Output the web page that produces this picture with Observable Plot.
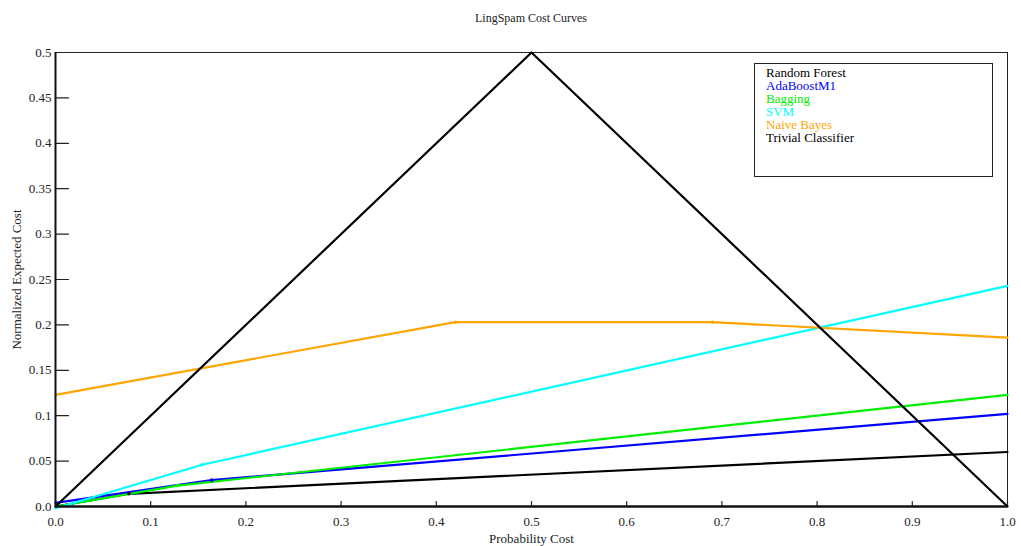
<!DOCTYPE html>
<html><head><meta charset="utf-8">
<script src="https://cdn.jsdelivr.net/npm/d3@7"></script>
<script src="https://cdn.jsdelivr.net/npm/@observablehq/plot@0.6"></script>
<style>
body{margin:0;background:#fff;font-family:"Liberation Serif","DejaVu Serif",serif;}
#wrap{position:relative;width:1021px;height:546px;}
#title{position:absolute;top:11px;left:0;width:1062px;text-align:center;font-size:12px;color:#222;}
#legend{position:absolute;left:754px;top:63px;width:237px;height:112px;border:1px solid #222;background:#fff;}
#legend div{position:absolute;left:11px;font-size:13px;line-height:13px;}
</style></head>
<body><div id="wrap"><div id="title">LingSpam Cost Curves</div><div id="legend"></div></div>
<script>
const seriesNames = ["Random Forest","AdaBoostM1","Bagging","SVM","Naive Bayes","Trivial Classifier"];
const seriesColors = ["#000000","#0000ff","#00ee00","#00ffff","#ffa500","#000000"];
const rfX = [0, 0.077, 1], rfY = [0, 0.014, 0.060];
const adaX = [0, 0.164, 1], adaY = [0.004, 0.029, 0.102];
const bagX = [0, 0.128, 1], bagY = [0, 0.023, 0.123];
const svmX = [0, 0.154, 1], svmY = [-0.002, 0.046, 0.243];
const nbX = [0, 0.42, 0.69, 1], nbY = [0.123, 0.203, 0.203, 0.186];
const trivX = [0, 0.5, 1], trivY = [0, 0.5, 0];
const xTicks = [0,0.1,0.2,0.3,0.4,0.5,0.6,0.7,0.8,0.9,1.0];
const yTicks = [0,0.05,0.1,0.15,0.2,0.25,0.3,0.35,0.4,0.45,0.5];

const allX = [rfX, adaX, bagX, svmX, nbX, trivX];
const allY = [rfY, adaY, bagY, svmY, nbY, trivY];
const data = [];
allX.forEach((xs, i) => xs.forEach((x, j) => data.push({s: seriesNames[i], x, y: allY[i][j], inner: j>0 && j<xs.length-1 && i<5})));
const colorOf = Object.fromEntries(seriesNames.map((n,i)=>[n, seriesColors[i]]));

const fmtY = d => d === 0 ? "0.0" : String(+d.toFixed(2));
const fmtX = d => d.toFixed(1);
const tickShape = {draw(ctx, l) { ctx.moveTo(0, 0); ctx.lineTo(0, -l); }};

const chart = Plot.plot({
  width: 1021, height: 546,
  marginLeft: 55, marginRight: 14, marginTop: 52, marginBottom: 40,
  style: {fontFamily: '"Liberation Serif", serif', fontSize: "13px", color: "#222", background: "#fff"},
  x: {domain: [0, 1]},
  y: {domain: [0, 0.5]},
  marks: [
    Plot.frame({stroke: "#222", strokeWidth: 1}),
    Plot.axisX({ticks: xTicks, tickFormat: fmtX, tickSize: 0, tickPadding: 10, label: "Probability Cost", labelAnchor: "center", labelArrow: "none", labelOffset: 36, fontSize: 13}),
    Plot.axisY({ticks: yTicks, tickFormat: fmtY, tickSize: 0, tickPadding: 4, label: "Normalized Expected Cost", labelAnchor: "center", labelArrow: "none", labelOffset: 44, fontSize: 13}),
    Plot.vector(xTicks, {x: d => d, y: 0, length: 5, rotate: 0, anchor: "start", shape: tickShape, stroke: "#222", strokeWidth: 1.2}),
    Plot.vector(yTicks, {x: 0, y: d => d, length: 13, rotate: 90, anchor: "start", shape: tickShape, stroke: "#222", strokeWidth: 1.2}),
    Plot.line(data, {x: "x", y: "y", z: "s", stroke: d => colorOf[d.s], strokeWidth: 2.2}),
    Plot.dot(data.filter(d => d.inner), {x: "x", y: "y", r: 1.8, fill: d => colorOf[d.s], stroke: "none"}),
    Plot.ruleX([0], {stroke: "#111", strokeWidth: 2}),
    Plot.ruleY([0], {stroke: "#111", strokeWidth: 2.5})
  ]
});
document.getElementById("wrap").prepend(chart);
const leg = document.getElementById("legend");
seriesNames.forEach((n, i) => {
  const d = document.createElement("div");
  d.textContent = n; d.style.color = seriesColors[i]; d.style.top = (2 + i*13) + "px";
  leg.appendChild(d);
});
</script></body></html>
